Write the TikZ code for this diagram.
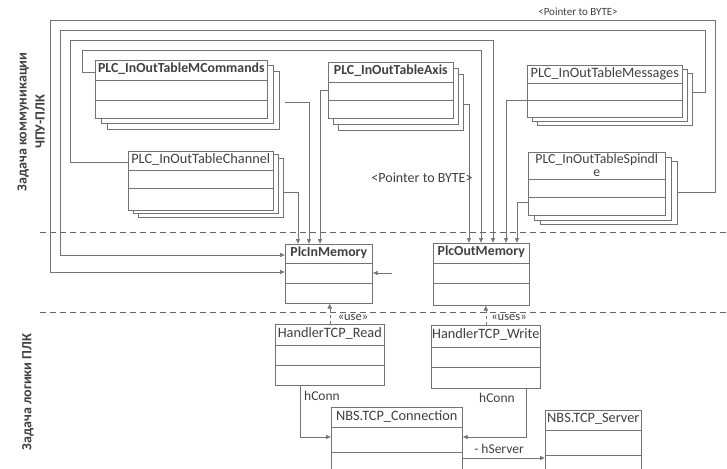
\documentclass[tikz,border=0pt]{standalone}
\usepackage{fontspec}
\setmainfont{Carlito}
\usetikzlibrary{arrows.meta}
\definecolor{linec}{gray}{0.45}
\definecolor{txtc}{gray}{0.25}
\tikzset{
 cbox/.style={draw=linec, fill=white, line width=0.6pt, inner sep=0pt},
 ctitle/.style={text=txtc, font=\fontsize{13.8}{12}\selectfont\bfseries, inner sep=1pt, align=center},
 ctitlen/.style={text=txtc, font=\fontsize{14.3}{12}\selectfont, inner sep=1pt, align=center},
 cline/.style={draw=linec, line width=0.5pt},
 assoc/.style={draw=linec, line width=0.6pt, -{Latex[length=5pt,width=4.5pt]}},
 usearr/.style={draw=linec, line width=0.6pt, dashed, -{Latex[length=5pt,width=5pt]}},
 lane/.style={draw=black!60, line width=0.7pt, dash pattern=on 6pt off 4pt},
 lbl/.style={text=txtc, font=\fontsize{12.5}{13}\selectfont, inner sep=1pt},
 lanelbl/.style={text=txtc, font=\fontsize{14}{18}\selectfont\bfseries, rotate=90, align=center, inner sep=0pt}
}
\newcommand\ucls[7]{%
 \node[cbox, minimum width=#4pt, minimum height=#5pt, anchor=north west] (#1) at (#2,#3) {};
 \draw[cline] ([yshift=-#6pt]#1.north west) -- ([yshift=-#6pt]#1.north east);
 \draw[cline] ([yshift=-#7pt]#1.north west) -- ([yshift=-#7pt]#1.north east);
}
\newcommand\ushadow[6]{%
 \draw[cbox] ({#1+#5},{#2+#6}) rectangle ++(#3,#4);
}
\begin{document}
\begin{tikzpicture}[x=1pt,y=-1pt]
\useasboundingbox (0,0) rectangle (727,468);
% lanes
\draw[lane] (40,232) -- (727,232);
\draw[lane] (40,312) -- (727,312);
\node[lanelbl] (lane1) at (31,122) {Задача коммуникации\\ЧПУ-ПЛК};
\node[lanelbl] (lane2) at (28,392) {Задача логики ПЛК};

% stacked tables
\ushadow{95}{60}{172}{58}{12}{11}
\ushadow{95}{60}{172}{58}{6}{5}
\ucls{mc}{95}{60}{172}{58}{20}{40}
\node[ctitle, anchor=north] (mct) at ([yshift=-2pt]mc.north) {PLC\_InOutTableMCommands};

\ushadow{328}{62}{125}{56}{10}{12}
\ushadow{328}{62}{125}{56}{5}{6}
\ucls{ax}{328}{62}{125}{56}{20}{38}
\node[ctitle, anchor=north] (axt) at ([yshift=-2pt]ax.north) {PLC\_InOutTableAxis};

\ushadow{527}{65}{155}{52}{10}{8}
\ushadow{527}{65}{155}{52}{5}{4}
\ucls{ms}{527}{65}{155}{52}{18}{35}
\node[ctitlen, anchor=north] (mst) at ([yshift=-1pt]ms.north) {PLC\_InOutTableMessages};

\ushadow{528}{152}{137}{63}{12}{9}
\ushadow{528}{152}{137}{63}{6}{5}
\ucls{sp}{528}{152}{137}{63}{27}{45}
\node[ctitlen, anchor=north, font=\fontsize{13.8}{12.5}\selectfont] (spt) at ([yshift=-1pt]sp.north) {PLC\_InOutTableSpindl\\e};

\ushadow{128}{151}{145}{59}{10}{7}
\ushadow{128}{151}{145}{59}{5}{3}
\ucls{ch}{128}{151}{145}{59}{19}{37}
\node[ctitlen, anchor=north] (cht) at ([yshift=-1pt]ch.north) {PLC\_InOutTableChannel};

% memories
\ucls{inm}{285}{244}{87}{59}{19}{39}
\node[ctitle, anchor=north] (inmt) at ([yshift=-2pt]inm.north) {PlcInMemory};
\ucls{outm}{433}{243}{96}{62}{20}{40}
\node[ctitle, anchor=north] (outmt) at ([yshift=-2pt]outm.north) {PlcOutMemory};

% handlers
\ucls{rd}{275}{324}{109}{61}{21}{41}
\node[ctitlen, anchor=north] (rdt) at ([yshift=-2pt]rd.north) {HandlerTCP\_Read};
\ucls{wr}{431}{325}{109}{63}{22}{42}
\node[ctitlen, anchor=north] (wrt) at ([yshift=-2pt]wr.north) {HandlerTCP\_Write};
\ucls{cn}{331}{407}{131}{70}{20}{45}
\node[ctitlen, anchor=north] (cnt) at ([yshift=-2pt]cn.north) {NBS.TCP\_Connection};
\ucls{sv}{545}{410}{96}{70}{20}{45}
\node[ctitlen, anchor=north] (svt) at ([yshift=-2pt]sv.north) {NBS.TCP\_Server};

% connectors to PlcInMemory
\coordinate (c1s) at (283,192);
\draw[assoc] (c1s) -| ([xshift=13pt]inm.north west);
\coordinate (c2s) at (285,102);
\draw[assoc] (c2s) -| ([xshift=24pt]inm.north west);
\draw[assoc] (ax.west) -| ([xshift=35pt]inm.north west);
% connectors to PlcOutMemory
\coordinate (o1s) at (463,104);
\draw[assoc] (o1s) -| ([xshift=36pt]outm.north west);
\draw[assoc] ([yshift=-12pt]mc.north west) -- ++(-13,0) -- ++(0,-22) -| ([xshift=48pt]outm.north west);
\draw[assoc] ([yshift=-11pt]ch.north west) -- ++(-58,0) -- ++(0,-122) -| ([xshift=60pt]outm.north west);
\draw[assoc] ([yshift=-35pt]ms.north west) -| ([xshift=73pt]outm.north west);
\draw[assoc] ([yshift=-50pt]sp.north west) -| ([xshift=84pt]outm.north west);
% pointer loops
\coordinate (p1s) at (677,192);
\draw[assoc] (p1s) -- ++(38,0) -- ++(0,-172) -- ++(-665,0) |- ([yshift=-28pt]inm.north west);
\coordinate (p2s) at (692,92);
\draw[assoc] (p2s) -- ++(13,0) -- ++(0,-62) -- ++(-645,0) |- ([yshift=-11pt]inm.north west);
\coordinate (rs) at (392,273);
\draw[assoc] (rs) -- (inm.east |- rs);
\node[lbl, font=\fontsize{11}{12}\selectfont] (ptr1) at (578,12) {<Pointer to BYTE>};
\node[lbl, font=\fontsize{14}{14}\selectfont] (ptr2) at (422,178) {<Pointer to BYTE>};

% uses
\draw[usearr] (rd.north) -- (rd.north |- inm.south);
\node[lbl] (use1) at (353,318) {«use»};
\draw[usearr] (wr.north) -- (wr.north |- outm.south);
\node[lbl] (use2) at (509,318) {«uses»};

% hConn / hServer
\draw[assoc] ([xshift=-30pt]rd.south) |- ([yshift=-30pt]cn.north west);
\node[lbl, font=\fontsize{13.5}{14}\selectfont] (hc1) at (322,396) {hConn};
\draw[assoc] ([xshift=40pt]wr.south) |- ([yshift=-30pt]cn.north east);
\node[lbl, font=\fontsize{13.5}{14}\selectfont] (hc2) at (497,398) {hConn};
\draw[assoc] ([yshift=-51pt]cn.north east) -- ([yshift=-48pt]sv.north west);
\node[lbl, font=\fontsize{13.5}{14}\selectfont] (hs) at (499,449) {- hServer};
\end{tikzpicture}
\end{document}
